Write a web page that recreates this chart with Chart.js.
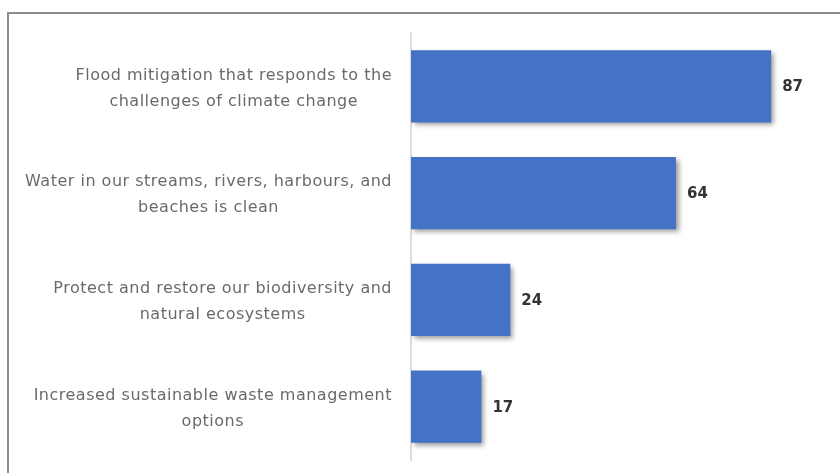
<!DOCTYPE html>
<html>
<head>
<meta charset="utf-8">
<script src="https://cdn.jsdelivr.net/npm/chart.js@4"></script>
<style>
  html, body { margin: 0; padding: 0; background: #fff; }
  #wrap { position: relative; width: 840px; height: 473px; }
  #frame {
    position: absolute; left: 7px; top: 12px; width: 900px; height: 500px;
    border-top: 2px solid #8c8c8c; border-left: 2px solid #8c8c8c;
  }
  #myChart { position: absolute; left: 0; top: 0; }
</style>
</head>
<body>
<div id="wrap">
  <div id="frame"></div>
  <canvas id="myChart" width="840" height="473"></canvas>
</div>
<script>
const categories = [
    ['Flood mitigation that responds to the', 'challenges of climate change'],
    ['Water in our streams, rivers, harbours, and', 'beaches is clean'],
    ['Protect and restore our biodiversity and', 'natural ecosystems'],
    ['Increased sustainable waste management', 'options']
];
const counts = [87, 64, 24, 17];

// bar shadow, like the original export
const shadowPlugin = {
    id: 'shadow',
    beforeDatasetsDraw(chart) {
        const ctx = chart.ctx;
        ctx.save();
        ctx.shadowColor = 'rgba(0, 0, 0, 0.4)';
        ctx.shadowBlur = 5;
        ctx.shadowOffsetX = 3;
        ctx.shadowOffsetY = 3;
    },
    afterDatasetsDraw(chart) {
        chart.ctx.restore();
    }
};

// category labels: block sits right of the axis, lines centred on each other
const categoryLabels = {
    id: 'categoryLabels',
    afterDraw(chart) {
        const ctx = chart.ctx;
        const yScale = chart.scales.y;
        const right = yScale.right - 19;
        const lineH = 26;
        ctx.save();
        ctx.font = '16px "DejaVu Sans"';
        ctx.letterSpacing = '0.5px';
        ctx.fillStyle = '#6a6a6a';
        ctx.textAlign = 'center';
        ctx.textBaseline = 'middle';
        categories.forEach((lines, i) => {
            const y = yScale.getPixelForTick(i) + 2;
            const w = Math.max(...lines.map(l => ctx.measureText(l).width));
            const cx = right - w / 2;
            lines.forEach((line, j) => {
                ctx.fillText(line, cx, y + (j - (lines.length - 1) / 2) * lineH);
            });
        });
        ctx.restore();
    }
};

// value labels at bar ends
const valueLabels = {
    id: 'valueLabels',
    afterDraw(chart) {
        const ctx = chart.ctx;
        const meta = chart.getDatasetMeta(0);
        ctx.save();
        ctx.font = 'bold 15px "DejaVu Sans"';
        ctx.fillStyle = '#333333';
        ctx.textAlign = 'left';
        ctx.textBaseline = 'middle';
        meta.data.forEach((bar, i) => {
            ctx.fillText(String(counts[i]), bar.x + 11, bar.y + 1);
        });
        ctx.restore();
    }
};

const ctx = document.getElementById('myChart').getContext('2d');
let myChart = new Chart(ctx, {
    type: 'bar',
    data: {
        labels: categories,
        datasets: [{
            data: counts,
            backgroundColor: '#4472c4',
            borderWidth: 0,
            barPercentage: 0.675,
            categoryPercentage: 1
        }]
    },
    options: {
        indexAxis: 'y',
        responsive: false,
        animation: false,
        layout: {
            padding: { top: 33, bottom: 13, left: 0, right: 15 }
        },
        plugins: {
            legend: { display: false },
            tooltip: { enabled: false }
        },
        scales: {
            x: {
                display: false,
                min: 0,
                max: 100
            },
            y: {
                afterFit(scale) {
                    scale.width = 411;
                    scale.paddingTop = 0;
                    scale.paddingBottom = 0;
                },
                grid: { drawOnChartArea: false, drawTicks: false },
                border: { color: '#dcdcdc', width: 2 },
                ticks: { display: false }
            }
        }
    },
    plugins: [shadowPlugin, categoryLabels, valueLabels]
});
</script>
</body>
</html>
